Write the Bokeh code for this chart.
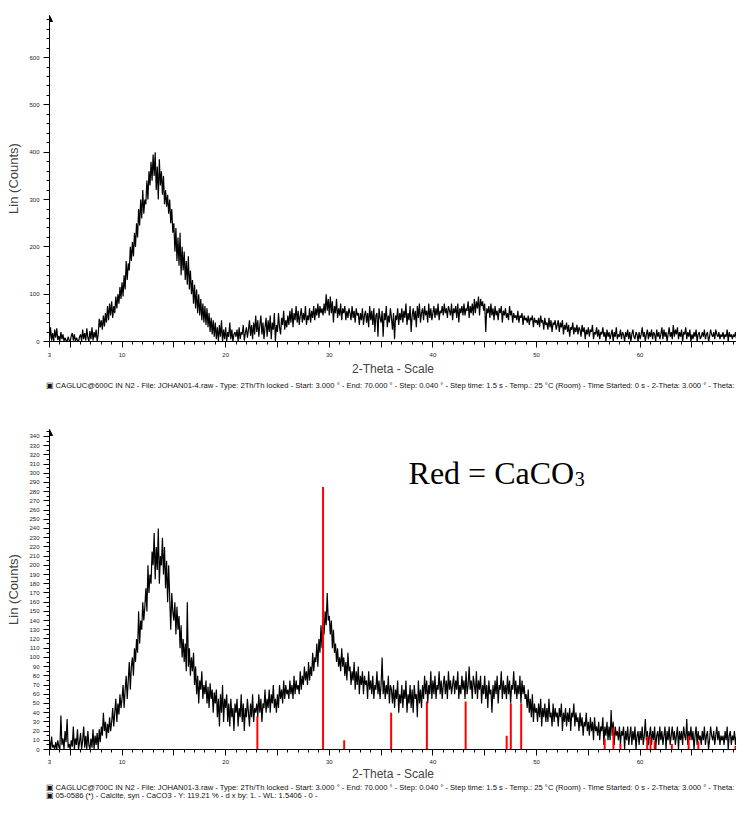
import numpy as np
from bokeh.plotting import figure
from bokeh.models import Range1d, FixedTicker, SingleIntervalTicker, Title, Label, Arrow, NormalHead
from bokeh.layouts import column
from bokeh.embed import file_html
from bokeh.resources import INLINE

# ---- scan grid (2-Theta, degrees) ----
scan_start = 3.0
scan_step = 0.1

# ---- sample calcined at 600 C : counts, one row per degree (d.0 ... d.9) ----
counts_600c = [
    5, 30, 2, 18, 0, 25, 8, 28, 3, 12,          # 3
    0, 20, 5, 15, 0, 8, 2, 0, 10, 3,            # 4
    0, 12, 18, 2, 15, 0, 8, 3, 0, 10,           # 5
    15, 0, 25, 5, 18, 2, 28, 8, 0, 22,          # 6
    5, 30, 2, 20, 8, 25, 0, 15, 48, 30,         # 7
    45, 25, 55, 32, 60, 40, 75, 45, 80, 55,     # 8
    85, 50, 75, 60, 95, 70, 100, 80, 115, 90,   # 9
    125, 95, 140, 110, 170, 130, 165, 150, 200, 170,  # 10
    210, 180, 230, 200, 250, 220, 280, 245, 300, 260,  # 11
    320, 270, 300, 290, 340, 300, 360, 330, 380, 340,  # 12
    395, 350, 400, 320, 370, 300, 385, 330, 360, 310,  # 13
    350, 290, 320, 285, 310, 270, 300, 250, 280, 230,  # 14
    250, 190, 240, 170, 220, 160, 230, 140, 200, 150,  # 15
    190, 130, 170, 120, 180, 110, 150, 100, 130, 80,   # 16
    120, 70, 110, 60, 100, 55, 90, 45, 80, 40,  # 17
    75, 35, 70, 30, 60, 20, 50, 15, 45, 10,     # 18
    40, 5, 30, 0, 35, 10, 45, 0, 25, 5,         # 19
    30, 0, 20, 10, 40, 5, 25, 0, 15, 20,        # 20
    10, 25, 0, 30, 5, 20, 15, 35, 2, 18,        # 21
    30, 8, 25, 45, 12, 35, 5, 40, 15, 55,       # 22
    20, 45, 10, 35, 55, 15, 40, 5, 30, 50,      # 23
    10, 45, 20, 55, 5, 40, 25, 60, 0, 35,       # 24
    20, 60, 30, 15, 50, 35, 65, 25, 45, 30,     # 25
    55, 35, 65, 40, 70, 30, 60, 45, 75, 40,     # 26
    65, 35, 55, 70, 40, 60, 45, 75, 35, 55,     # 27
    45, 70, 40, 65, 50, 75, 45, 70, 55, 80,     # 28
    50, 75, 60, 70, 55, 80, 60, 100, 65, 90,    # 29
    55, 95, 60, 85, 40, 75, 60, 90, 50, 70,     # 30
    55, 80, 45, 70, 60, 75, 45, 65, 50, 70,     # 31
    60, 45, 75, 50, 65, 40, 70, 55, 60, 35,     # 32
    60, 45, 70, 35, 55, 65, 40, 60, 30, 75,     # 33
    45, 65, 35, 70, 20, 55, 60, 10, 70, 50,     # 34
    40, 65, 10, 60, 45, 75, 30, 55, 40, 70,     # 35
    50, 25, 60, 5, 55, 45, 70, 35, 60, 45,      # 36
    70, 40, 65, 50, 80, 35, 60, 45, 75, 20,     # 37
    55, 70, 45, 65, 30, 75, 50, 80, 40, 60,     # 38
    70, 45, 75, 55, 65, 40, 80, 50, 70, 45,     # 39
    60, 75, 50, 70, 55, 80, 45, 65, 60, 75,     # 40
    55, 80, 60, 70, 50, 75, 65, 55, 80, 45,     # 41
    70, 60, 75, 50, 80, 40, 70, 60, 75, 55,     # 42
    80, 55, 70, 65, 85, 50, 75, 60, 80, 55,     # 43
    90, 60, 85, 70, 95, 55, 90, 75, 85, 65,     # 44
    80, 20, 70, 60, 75, 50, 80, 55, 70, 45,     # 45
    75, 55, 65, 45, 70, 60, 75, 40, 65, 55,     # 46
    70, 50, 60, 45, 75, 55, 65, 40, 60, 50,     # 47
    55, 45, 65, 40, 55, 50, 60, 35, 55, 45,     # 48
    50, 40, 55, 35, 50, 45, 55, 30, 50, 40,     # 49
    45, 35, 50, 30, 55, 40, 45, 25, 50, 35,     # 50
    40, 25, 50, 30, 45, 20, 40, 35, 45, 25,     # 51
    35, 45, 20, 40, 30, 45, 15, 35, 25, 40,     # 52
    20, 35, 10, 30, 25, 40, 15, 30, 20, 35,     # 53
    15, 30, 25, 10, 35, 20, 30, 5, 25, 15,      # 54
    30, 10, 25, 20, 35, 5, 20, 15, 30, 10,      # 55
    25, 5, 20, 15, 30, 10, 20, 0, 25, 10,       # 56
    20, 5, 15, 25, 0, 20, 10, 30, 5, 15,        # 57
    10, 25, 5, 20, 15, 0, 20, 10, 25, 5,        # 58
    20, 0, 15, 25, 10, 5, 20, 15, 0, 20,        # 59
    5, 15, 30, 10, 20, 0, 15, 25, 5, 20,        # 60
    10, 25, 5, 20, 15, 0, 25, 10, 20, 5,        # 61
    15, 30, 5, 25, 10, 20, 0, 15, 30, 10,       # 62
    20, 5, 35, 10, 25, 15, 30, 5, 20, 10,       # 63
    25, 0, 20, 15, 30, 5, 20, 10, 25, 0,        # 64
    15, 5, 20, 10, 25, 0, 15, 20, 5, 10,        # 65
    20, 10, 25, 5, 15, 20, 0, 10, 25, 15,       # 66
    10, 20, 5, 25, 15, 10, 20, 5, 15, 10,       # 67
    20, 5, 15, 10, 25, 0, 20, 10, 15, 5,        # 68
    15, 10, 20, 5, 15, 10, 5, 20, 10, 15,       # 69
]

# ---- sample calcined at 700 C : counts, one row per degree ----
counts_700c = [
    10, 0, 14, 2, 5, 0, 8, 0, 10, 3,            # 3
    0, 37, 5, 12, 0, 20, 8, 33, 2, 6,           # 4
    0, 10, 3, 25, 0, 12, 5, 22, 0, 8,           # 5
    18, 0, 10, 25, 2, 15, 0, 20, 5, 0,          # 6
    12, 2, 22, 0, 15, 5, 18, 0, 22, 8,          # 7
    25, 15, 40, 20, 30, 12, 28, 18, 35, 20,     # 8
    30, 45, 25, 40, 55, 30, 50, 38, 60, 45,     # 9
    55, 70, 45, 65, 80, 55, 75, 95, 65, 90,     # 10
    100, 80, 110, 95, 120, 105, 150, 115, 140, 130,   # 11
    160, 140, 155, 175, 150, 200, 170, 190, 180, 215,  # 12
    200, 235, 185, 220, 195, 240, 180, 210, 200, 230,  # 13
    190, 220, 175, 205, 160, 200, 165, 130, 170, 150,  # 14
    140, 160, 125, 155, 130, 145, 110, 135, 100, 120,  # 15
    95, 115, 85, 160, 90, 110, 80, 100, 85, 105,  # 16
    70, 90, 60, 80, 50, 75, 65, 85, 55, 70,     # 17
    60, 75, 50, 68, 45, 72, 55, 65, 40, 62,     # 18
    50, 65, 35, 55, 25, 60, 40, 70, 30, 55,     # 19
    45, 60, 30, 50, 25, 55, 35, 45, 20, 50,     # 20
    40, 55, 25, 45, 35, 60, 30, 50, 20, 45,     # 21
    35, 55, 40, 25, 50, 35, 60, 30, 45, 40,     # 22
    50, 35, 60, 40, 55, 30, 50, 45, 65, 40,     # 23
    55, 45, 65, 40, 60, 50, 70, 45, 55, 40,     # 24
    60, 45, 70, 55, 65, 50, 75, 55, 70, 60,     # 25
    65, 55, 75, 60, 70, 55, 80, 60, 75, 65,     # 26
    70, 60, 85, 65, 80, 70, 90, 75, 85, 70,     # 27
    95, 75, 90, 80, 105, 85, 100, 95, 115, 90,  # 28
    120, 105, 135, 110, 140, 125, 150, 135, 170, 140,  # 29
    145, 125, 140, 110, 130, 105, 115, 95, 110, 90,    # 30
    100, 85, 110, 90, 100, 80, 95, 75, 105, 85,  # 31
    90, 70, 85, 75, 95, 65, 85, 70, 90, 60,     # 32
    80, 70, 85, 60, 80, 70, 75, 55, 85, 65,     # 33
    75, 60, 80, 55, 70, 65, 85, 60, 75, 55,     # 34
    70, 100, 60, 75, 55, 70, 60, 80, 50, 70,    # 35
    65, 50, 70, 45, 65, 55, 75, 40, 60, 50,     # 36
    70, 45, 65, 55, 75, 40, 60, 50, 70, 45,     # 37
    65, 40, 70, 55, 60, 35, 75, 50, 65, 45,     # 38
    70, 55, 80, 60, 75, 50, 70, 60, 85, 55,     # 39
    75, 60, 80, 55, 70, 65, 85, 60, 75, 55,     # 40
    70, 80, 60, 75, 55, 85, 65, 75, 60, 70,     # 41
    80, 60, 75, 65, 85, 55, 70, 60, 80, 65,     # 42
    75, 55, 85, 60, 70, 90, 65, 75, 55, 80,     # 43
    70, 60, 85, 55, 75, 65, 80, 50, 70, 60,     # 44
    80, 55, 70, 45, 75, 60, 65, 40, 70, 55,     # 45
    75, 60, 80, 50, 70, 65, 85, 55, 75, 60,     # 46
    70, 55, 80, 60, 75, 50, 70, 65, 85, 60,     # 47
    75, 55, 70, 60, 80, 50, 75, 60, 70, 55,     # 48
    60, 45, 65, 40, 55, 35, 60, 30, 50, 40,     # 49
    45, 30, 50, 35, 55, 25, 45, 35, 50, 30,     # 50
    45, 30, 55, 35, 40, 25, 50, 30, 45, 35,     # 51
    40, 25, 45, 35, 50, 20, 40, 30, 45, 25,     # 52
    40, 30, 45, 20, 40, 35, 50, 25, 40, 30,     # 53
    35, 20, 40, 25, 35, 15, 30, 25, 40, 20,     # 54
    30, 15, 35, 20, 30, 10, 35, 20, 25, 15,     # 55
    30, 10, 25, 20, 35, 5, 25, 15, 30, 10,      # 56
    25, 10, 43, 15, 30, 5, 25, 15, 20, 10,      # 57
    25, 5, 20, 15, 25, 0, 20, 10, 25, 5,        # 58
    15, 25, 5, 20, 10, 25, 0, 15, 20, 5,        # 59
    20, 10, 25, 5, 15, 33, 10, 20, 5, 15,       # 60
    25, 5, 20, 10, 25, 0, 15, 20, 5, 25,        # 61
    10, 20, 5, 15, 25, 0, 20, 10, 25, 5,        # 62
    15, 25, 10, 20, 5, 15, 25, 0, 20, 10,       # 63
    20, 5, 25, 15, 10, 33, 5, 20, 10, 25,       # 64
    10, 20, 0, 15, 25, 5, 20, 10, 15, 5,        # 65
    20, 10, 25, 5, 15, 20, 0, 10, 25, 15,       # 66
    10, 20, 5, 15, 25, 10, 20, 5, 15, 10,       # 67
    15, 5, 20, 10, 25, 0, 15, 20, 5, 15,        # 68
    10, 20, 5, 15, 10, 20, 5, 15, 10, 5,        # 69
]

# ---- reference pattern 05-0586 Calcite (red sticks) ----
calcite_pos = [23.06, 29.40, 31.44, 35.97, 39.42, 43.16, 47.12, 47.52, 48.52,
               56.58, 57.42, 58.10, 60.68, 61.00, 61.40, 63.06, 64.68, 65.62, 69.20]
calcite_counts = [36, 285, 10, 40, 52, 52, 15, 50, 50,
                  12, 24, 6, 14, 13, 9, 6, 15, 9, 4]

# ---- axis ticks ----
x_major_ticks = [3, 5, 10, 15, 20, 25, 30, 35, 40, 45, 50, 55, 60, 65]
x_unlabelled = [5, 15, 25, 35, 45, 55, 65]
x_minor_ticks = list(range(3, 70))

desc_600 = ("\u25a3 CAGLUC@600C IN N2 - File: JOHAN01-4.raw - Type: 2Th/Th locked - Start: 3.000 \u00b0 - "
            "End: 70.000 \u00b0 - Step: 0.040 \u00b0 - Step time: 1.5 s - Temp.: 25 \u00b0C (Room) - "
            "Time Started: 0 s - 2-Theta: 3.000 \u00b0 - Theta:")
desc_700 = ("\u25a3 CAGLUC@700C IN N2 - File: JOHAN01-3.raw - Type: 2Th/Th locked - Start: 3.000 \u00b0 - "
            "End: 70.000 \u00b0 - Step: 0.040 \u00b0 - Step time: 1.5 s - Temp.: 25 \u00b0C (Room) - "
            "Time Started: 0 s - 2-Theta: 3.000 \u00b0 - Theta:")
desc_ref = "\u25a3 05-0586 (*) - Calcite, syn - CaCO3 - Y: 119.21 % - d x by: 1. - WL: 1.5406 - 0 -"

FONT = "Liberation Sans"

theta_600 = np.round(scan_start + scan_step * np.arange(len(counts_600c)), 2)
theta_700 = np.round(scan_start + scan_step * np.arange(len(counts_700c)), 2)


def make_fig(height, top, bottom, ymax, yticker, label_standoff, title_standoff):
    p = figure(width=736, height=height, x_range=Range1d(3, 69.3), y_range=Range1d(0, ymax),
               output_backend="svg", toolbar_location=None,
               min_border_left=49, min_border_right=0, min_border_top=top, min_border_bottom=bottom)
    p.outline_line_color = None
    p.xgrid.grid_line_color = None
    p.ygrid.grid_line_color = None
    p.background_fill_color = "white"
    p.border_fill_color = "white"

    xa = p.xaxis[0]
    xa.ticker = FixedTicker(ticks=x_major_ticks, minor_ticks=x_minor_ticks)
    xa.major_label_overrides = {t: "" for t in x_unlabelled}
    xa.major_tick_out = 6
    xa.major_tick_in = 0
    xa.minor_tick_out = 3
    xa.minor_tick_in = 0
    xa.major_label_text_font = FONT
    xa.major_label_text_font_size = "6px"
    xa.major_label_text_color = "#222222"
    xa.major_label_standoff = label_standoff
    xa.axis_label = "2-Theta - Scale"
    xa.axis_label_text_font = FONT
    xa.axis_label_text_font_size = "12px"
    xa.axis_label_text_font_style = "normal"
    xa.axis_label_standoff = title_standoff
    xa.axis_line_color = "black"

    ya = p.yaxis[0]
    ya.ticker = yticker
    ya.major_tick_out = 6
    ya.major_tick_in = 0
    ya.minor_tick_out = 3
    ya.minor_tick_in = 0
    ya.major_label_text_font = FONT
    ya.major_label_text_font_size = "6px"
    ya.major_label_text_color = "#222222"
    ya.major_label_standoff = 4
    ya.axis_label = "Lin (Counts)"
    ya.axis_label_text_font = FONT
    ya.axis_label_text_font_size = "13px"
    ya.axis_label_text_font_style = "normal"
    ya.axis_label_standoff = 5

    p.add_layout(Arrow(end=NormalHead(size=6, fill_color="black", line_color="black"),
                       x_start=3, y_start=0, x_end=3, y_end=ymax,
                       line_color="black", line_width=1))
    return p


def add_desc(p, text, standoff):
    p.add_layout(Title(text=text, align="left", offset=-4, standoff=standoff,
                       text_font=FONT, text_font_size="7.6px", text_font_style="normal",
                       text_line_height=1.0, text_color="#111111"), "below")


# ---------------- top chart ----------------
p1 = make_fig(390, 15, 49, 689, SingleIntervalTicker(interval=100, num_minor_ticks=5), 5, 2)
p1.line(theta_600, counts_600c, line_color="black", line_width=1.2)
add_desc(p1, desc_600, 0)

# ---------------- bottom chart ----------------
p2 = make_fig(410, 39, 51, 347.5, SingleIntervalTicker(interval=10, num_minor_ticks=2), 4, 0)
p2.line(theta_700, counts_700c, line_color="black", line_width=1.2)
p2.segment(x0=calcite_pos, y0=[0] * len(calcite_pos), x1=calcite_pos, y1=calcite_counts,
           line_color="#ff0000", line_width=2)
add_desc(p2, desc_700, -5)
add_desc(p2, desc_ref, -2)

p2.add_layout(Label(x=37.65, y=300, text="Red = CaCO", text_font="Liberation Serif",
                    text_font_size="32px", text_color="black", text_baseline="alphabetic"))
p2.add_layout(Label(x=53.7, y=294, text="3", text_font="Liberation Serif",
                    text_font_size="20px", text_color="black", text_baseline="alphabetic"))

layout = column(p1, p2, spacing=0)

with open("out.html", "w") as f:
    f.write(file_html(layout, INLINE))
